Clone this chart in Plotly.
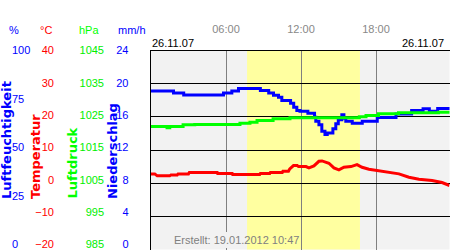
import plotly.graph_objects as go

W, H = 450, 250
DAY = "2007-11-26 "
FONT = "Liberation Sans, Arial, sans-serif"
BOLD = "DejaVu Sans, sans-serif"

# ---- data -----------------------------------------------------------------
hum_times = ["00:00", "01:48", "02:37", "05:48", "06:28", "07:00", "08:45", "09:25",
             "09:48", "10:12", "10:28", "11:10", "11:25", "11:40", "11:55", "12:33",
             "13:05", "13:11", "13:26", "13:40", "13:55", "14:06", "14:33", "14:47",
             "14:59", "15:16", "15:26", "15:35", "16:06", "16:54", "18:06", "19:36",
             "20:51", "21:46", "22:16", "22:56", "23:59"]
hum_values = [79.7, 78.7, 77.7, 78.7, 79.7, 80.9, 79.9, 78.7,
              77.5, 76.5, 74.9, 73.5, 71.5, 69.8, 69.5, 68.5,
              66.5, 64.5, 62.7, 59.4, 57.8, 58.6, 60.7, 63.2,
              65.2, 67.7, 66.0, 64.5, 63.5, 64.5, 66.3, 68.1,
              69.8, 70.7, 69.5, 70.9, 70.9]

pres_times = ["00:00", "01:17", "01:30", "02:34", "03:30", "07:07", "07:55", "08:29",
              "09:46", "11:07", "16:40", "17:12", "18:12", "19:48", "23:00", "23:59"]
pres_values = [1022.1, 1021.7, 1022.1, 1022.6, 1022.7, 1023.1, 1023.4, 1023.9,
               1024.4, 1024.7, 1025.0, 1025.4, 1025.9, 1026.2, 1026.4, 1026.4]

temp_times = ["00:00", "00:18", "00:30", "01:30", "01:36", "02:06", "02:10", "03:00",
              "03:04", "05:18", "05:20", "06:30", "06:32", "08:42", "08:45", "09:30",
              "09:33", "10:30", "10:33", "11:00", "11:06", "11:24", "11:42", "11:48",
              "12:24", "12:38", "13:02", "13:26", "13:41", "14:14", "14:38", "15:02",
              "15:26", "16:00", "16:29", "16:53", "17:26", "18:14", "19:02", "19:50",
              "20:38", "21:26", "22:29", "23:17", "23:53"]
temp_values = [2.8, 2.8, 2.2, 2.2, 2.5, 2.5, 2.8, 2.8,
               3.2, 3.2, 2.9, 2.9, 2.6, 2.6, 2.9, 2.9,
               3.2, 3.2, 3.6, 3.6, 4.3, 5.3, 5.3, 5.0,
               5.0, 4.6, 5.2, 6.6, 6.7, 6.0, 4.6, 4.0,
               4.8, 5.0, 5.6, 4.8, 4.2, 3.8, 3.4, 2.8,
               1.8, 1.2, 0.8, 0.2, -0.7]

pct_ticks = [0, 25, 50, 75, 100]
temp_ticks = [-20, -10, 0, 10, 20, 30, 40]
pres_ticks = [985, 995, 1005, 1015, 1025, 1035, 1045]
rain_ticks = [0, 4, 8, 12, 16, 20, 24]
time_ticks = ["06:00", "12:00", "18:00"]

units = ["%", "°C", "hPa", "mm/h"]
titles = ["Luftfeuchtigkeit", "Temperatur", "Luftdruck", "Niederschlag"]
daylight = ["07:41", "16:43"]
date_label = "26.11.07"
created = "Erstellt: 19.01.2012 10:47"
x_range = ["2007-11-25 23:57:36", "2007-11-26 23:52:48"]

# ---- styles ---------------------------------------------------------------
BLUE, RED, GREEN = "#0000ff", "#ff0000", "#00ff00"
GRAYBG, YELLOW = "#f2f2f2", "#ffffa0"
colors = [BLUE, RED, GREEN, BLUE]
LABEL_STRETCH = 199.0 / 194.0   # tick labels sit slightly tighter than the grid


def px_x(p):
    return p / W


def px_y(p):
    return 1 - p / H


frame_y = [px_y(249.5), px_y(50.5)]

fig = go.Figure()
fig.add_trace(go.Scatter(x=[DAY + t for t in temp_times], y=temp_values, mode="lines",
                         line=dict(color=RED, width=3), yaxis="y", hoverinfo="skip"))
fig.add_trace(go.Scatter(x=[DAY + t for t in hum_times], y=hum_values, mode="lines",
                         line=dict(color=BLUE, width=3, shape="hv"), yaxis="y2", hoverinfo="skip"))
fig.add_trace(go.Scatter(x=[DAY + t for t in pres_times], y=pres_values, mode="lines",
                         line=dict(color=GREEN, width=3, shape="hv"), yaxis="y3", hoverinfo="skip"))
# empty traces so that the four scale axes get drawn
for ax in ["y4", "y5", "y6", "y7"]:
    fig.add_trace(go.Scatter(x=[], y=[], mode="lines", yaxis=ax, hoverinfo="skip"))


def label_axis(ticks, color, pos, side):
    lo, hi = ticks[0], ticks[-1]
    lo_ext = hi - (hi - lo) * LABEL_STRETCH
    return dict(overlaying="y", range=[lo_ext, hi], tickvals=ticks,
                anchor="free", position=pos, side=side, showgrid=False, zeroline=False,
                showline=False, ticks="", automargin=False, visible=True,
                ticklabeloverflow="allow",
                tickfont=dict(color=color, size=11, family=FONT), fixedrange=True)


fig.update_layout(
    width=W, height=H, margin=dict(l=0, r=0, t=0, b=0, autoexpand=False),
    paper_bgcolor="white", plot_bgcolor=GRAYBG, showlegend=False,
    xaxis=dict(domain=[px_x(150.5), px_x(449.5)], range=x_range, type="date",
               side="top", anchor="y", tickvals=[DAY + t for t in time_ticks],
               ticktext=time_ticks, ticks="", ticklabelstandoff=12, automargin=False,
               tickfont=dict(color="#888888", size=11, family=FONT),
               showgrid=True, gridcolor="#808080", gridwidth=1,
               showline=True, mirror=True, linecolor="black", linewidth=1,
               zeroline=False, fixedrange=True),
    yaxis=dict(domain=frame_y, range=[temp_ticks[0], temp_ticks[-1]], dtick=10,
               showticklabels=False, ticks="", showgrid=True, gridcolor="black",
               gridwidth=1, zeroline=False, showline=True, mirror=True, automargin=False,
               linecolor="black", linewidth=1, fixedrange=True),
    yaxis2=dict(overlaying="y", range=[pct_ticks[0], pct_ticks[-1]], visible=False, fixedrange=True),
    yaxis3=dict(overlaying="y", range=[pres_ticks[0], pres_ticks[-1]], visible=False, fixedrange=True),
    yaxis4=label_axis(pct_ticks, BLUE, px_x(11), "right"),
    yaxis5=label_axis(temp_ticks, RED, px_x(54), "left"),
    yaxis6=label_axis(pres_ticks, "#00ee00", px_x(104), "left"),
    yaxis7=label_axis(rain_ticks, BLUE, px_x(128.5), "left"),
)

# daylight band
fig.add_shape(type="rect", xref="x", yref="paper", x0=DAY + daylight[0], x1=DAY + daylight[1],
              y0=frame_y[0], y1=frame_y[1], fillcolor=YELLOW, line_width=0, layer="below")
# gap in the 06:00 line behind the creation note
fig.add_shape(type="rect", xref="x", yref="paper", x0=DAY + "05:55", x1=DAY + "06:05",
              y0=px_y(248), y1=px_y(232), fillcolor=GRAYBG, line_width=0, layer="above")

unit_x = [14, 46, 89, 132]
title_x = [6, 35.5, 72, 112]
for u, tx, c in zip(units, unit_x, colors):
    fig.add_annotation(text=u, x=px_x(tx), y=px_y(30), xref="paper", yref="paper",
                       showarrow=False, font=dict(color=c, size=11, family=FONT),
                       xanchor="center", yanchor="middle")
for t, tx, c in zip(titles, title_x, colors):
    fig.add_annotation(text="<b>" + t + "</b>", x=px_x(tx), y=px_y(201), xref="paper",
                       yref="paper", showarrow=False, textangle=-90,
                       font=dict(color=c, size=13, family=BOLD),
                       xanchor="center", yanchor="bottom")

fig.add_annotation(text=date_label, x=px_x(150), y=px_y(43), xref="paper", yref="paper",
                   showarrow=False, font=dict(color="black", size=11, family=FONT),
                   xanchor="left", yanchor="middle")
fig.add_annotation(text=date_label, x=px_x(446), y=px_y(43), xref="paper", yref="paper",
                   showarrow=False, font=dict(color="black", size=11, family=FONT),
                   xanchor="right", yanchor="middle")
fig.add_annotation(text=created, x=px_x(236), y=px_y(240), xref="paper", yref="paper",
                   showarrow=False, font=dict(color="#808080", size=11, family=FONT),
                   xanchor="center", yanchor="middle")

fig.write_html("out.html", config={"displayModeBar": False})
